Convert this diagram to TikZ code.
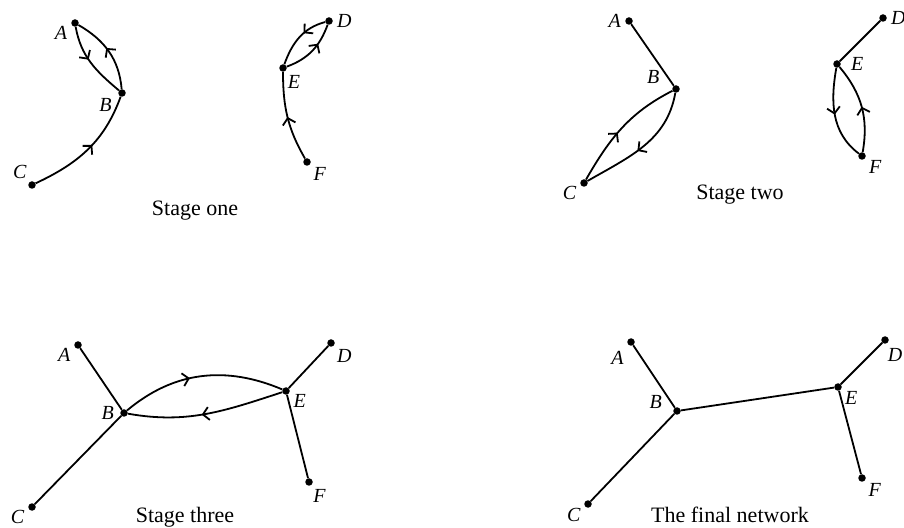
\documentclass[tikz,border=0pt]{standalone}
\usepackage{fontspec}
\setmainfont{Liberation Serif}
\usepackage{tikz}
\usetikzlibrary{arrows.meta,decorations.markings}
\tikzset{
  vtx/.style={circle, fill=black, inner sep=0pt, minimum size=7.5pt},
  lbl/.style={font=\itshape\fontsize{20}{20}\selectfont, inner sep=1pt, label distance=3pt},
  link/.style={line width=1.8pt},
  flow/.style={link, postaction={decorate}, decoration={markings,
      mark=at position #1 with {\arrow{Straight Barb[length=6pt, width=13pt, line width=1.8pt]}}}},
  flow/.default=0.5,
  stagecap/.style={font=\fontsize{22}{22}\selectfont},
}
\begin{document}
\begin{tikzpicture}[x=1pt, y=1pt]
    \useasboundingbox (0,0) rectangle (904,527);
    % stage one
    \node[vtx, label={[lbl]195:A}] (a1) at (75,504) {};
    \node[vtx, label={[lbl, label distance=6pt]204:B}] (b1) at (122,434) {};
    \node[vtx, label={[lbl]128:C}] (c1) at (32,342) {};
    \node[vtx, label={[lbl]0:D}] (d1) at (329,506) {};
    \node[vtx, label={[lbl]-58:E}] (e1) at (283,459) {};
    \node[vtx, label={[lbl]-38:F}] (f1) at (307,365) {};
    \draw[flow=0.45] (a1) to[out=-80, in=140] (b1);
    \draw[flow=0.55] (b1) to[out=95, in=-30] (a1);
    \draw[flow=0.55] (c1) to[out=25, in=250] (b1);
    \draw[flow=0.4] (d1) to[out=195, in=70] (e1);
    \draw[flow=0.65] (e1) to[out=20, in=250] (d1);
    \draw[flow=0.5] (f1) to[out=120, in=270] (e1);
    \node[stagecap] (s1) at (195,316) {Stage one};
    % stage two
    \node[vtx, label={[lbl]180:A}] (a2) at (629,506) {};
    \node[vtx, label={[lbl, label distance=12pt]165:B}] (b2) at (676,438) {};
    \node[vtx, label={[lbl]198:C}] (c2) at (584,344) {};
    \node[vtx, label={[lbl]0:D}] (d2) at (883,509) {};
    \node[vtx, label={[lbl, label distance=9pt]0:E}] (e2) at (837,463) {};
    \node[vtx, label={[lbl]-30:F}] (f2) at (862,371) {};
    \draw[link] (a2) -- (b2); \draw[link] (d2) -- (e2);
    \draw[flow=0.45] (c2) to[out=60, in=207] (b2);
    \draw[flow=0.55] (b2) to[out=260, in=30] (c2);
    \draw[flow=0.5] (e2) to[out=260, in=143] (f2);
    \draw[flow=0.5] (f2) to[out=80, in=-50] (e2);
    \node[stagecap] (s2) at (740,332) {Stage two};
    % stage three
    \node[vtx, label={[lbl]200:A}] (a3) at (78,182) {};
    \node[vtx, label={[lbl, label distance=5pt]178:B}] (b3) at (124,114) {};
    \node[vtx, label={[lbl]200:C}] (c3) at (32,20) {};
    \node[vtx, label={[lbl]-45:D}] (d3) at (331,184) {};
    \node[vtx, label={[lbl]-20:E}] (e3) at (286,136) {};
    \node[vtx, label={[lbl]-62:F}] (f3) at (309,45) {};
    \draw[link] (a3) -- (b3); \draw[link] (c3) -- (b3);
    \draw[link] (d3) -- (e3); \draw[link] (e3) -- (f3);
    \draw[flow=0.43] (b3) to[out=40, in=157] (e3);
    \draw[flow=0.53] (e3) to[out=198, in=-10] (b3);
    \node[stagecap] (s3) at (185,10) {Stage three};
    % final network
    \node[vtx, label={[lbl, label distance=6pt]-128:A}] (a4) at (631,185) {};
    \node[vtx, label={[lbl, label distance=10pt]176:B}] (b4) at (677,116) {};
    \node[vtx, label={[lbl]205:C}] (c4) at (588,23) {};
    \node[vtx, label={[lbl]-77:D}] (d4) at (885,187) {};
    \node[vtx, label={[lbl]-30:E}] (e4) at (838,140) {};
    \node[vtx, label={[lbl]-38:F}] (f4) at (862,49) {};
    \draw[link] (a4) -- (b4); \draw[link] (c4) -- (b4); \draw[link] (b4) -- (e4);
    \draw[link] (d4) -- (e4); \draw[link] (e4) -- (f4);
    \node[stagecap] (s4) at (730,12) {The final network};
\end{tikzpicture}
\end{document}
